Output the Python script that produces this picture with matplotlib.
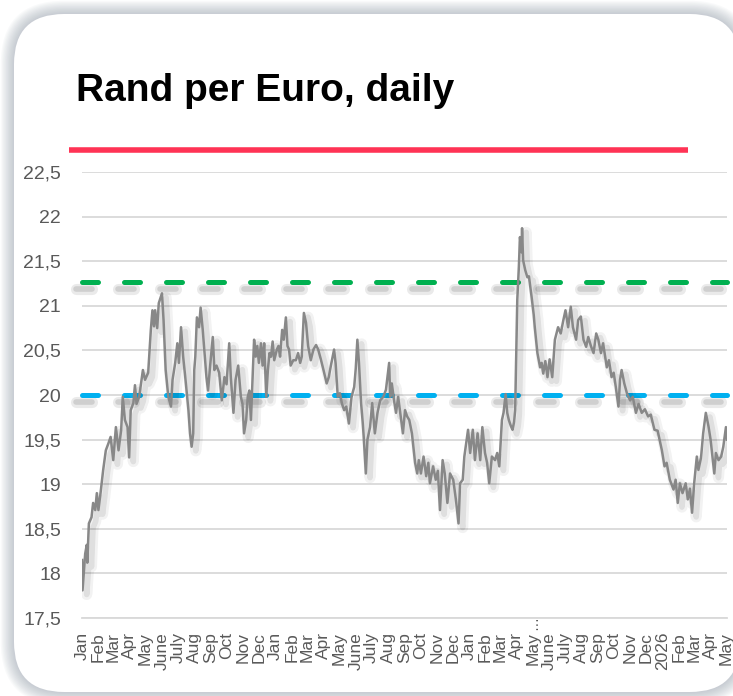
import matplotlib
matplotlib.use("Agg")
import matplotlib.pyplot as plt
import matplotlib.patheffects as pe
import matplotlib.ticker as mticker
from matplotlib.patches import FancyBboxPatch
from matplotlib.lines import Line2D
import pandas as pd

plt.rcParams['font.family'] = ['Liberation Sans', 'DejaVu Sans']

# ---------DATA---------
# days since 2023-01-01 and the rand per euro rate
day = [0, 1, 6, 9, 10, 13, 18, 21, 25, 28, 31, 35, 40, 45, 50, 54, 59, 64, 69, 74,
       77, 81, 86, 89, 92, 97, 100, 103, 108, 115, 119, 125, 130, 133, 136, 138, 142, 145, 151, 154,
       158, 163, 168, 171, 176, 180, 183, 187, 191, 195, 201, 204, 207, 210, 212, 214, 217, 221, 224, 228,
       232, 235, 238, 242, 247, 250, 254, 259, 264, 269, 273, 278, 281, 286, 290, 295, 300, 303, 306, 310,
       313, 316, 319, 322, 325, 328, 331, 334, 338, 341, 344, 348, 351, 354, 357, 360, 363, 368, 371, 374,
       378, 381, 385, 388, 391, 394, 399, 404, 408, 412, 415, 419, 423, 427, 432, 437, 442, 446, 451, 456,
       462, 466, 470, 476, 479, 483, 487, 491, 495, 499, 504, 509, 514, 517, 520, 523, 527, 530, 532, 536,
       539, 544, 548, 553, 558, 563, 569, 574, 580, 582, 585, 590, 593, 597, 601, 606, 610, 614, 618, 623,
       626, 629, 633, 636, 640, 645, 650, 654, 657, 663, 668, 672, 676, 681, 685, 690, 695, 701, 706, 711,
       714, 719, 722, 729, 733, 738, 742, 747, 752, 756, 761, 765, 769, 774, 780, 784, 788, 793, 796, 800,
       803, 806, 810, 813, 816, 818, 822, 825, 827, 830, 831, 833, 837, 841, 844, 849, 853, 855, 860, 865,
       868, 871, 875, 879, 883, 888, 893, 899, 904, 909, 913, 918, 923, 927, 933, 937, 942, 947, 952, 956,
       961, 966, 971, 975, 980, 984, 991, 995, 1000, 1004, 1008, 1013, 1016, 1019, 1024, 1029, 1035, 1040, 1046, 1051,
       1057, 1063, 1069, 1074, 1081, 1087, 1095, 1100, 1104, 1110, 1117, 1121, 1125, 1129, 1134, 1140, 1144, 1148, 1152, 1156,
       1161, 1164, 1169, 1173, 1178, 1183, 1187, 1194, 1197, 1202, 1207, 1211, 1216, 1218]
rate = [18.15, 17.81, 18.22, 18.32, 18.12, 18.56, 18.63, 18.79, 18.71, 18.90, 18.71, 18.90, 19.16, 19.38, 19.46, 19.53, 19.27, 19.64, 19.38, 19.61,
        19.98, 19.72, 19.64, 19.30, 19.83, 19.91, 20.11, 19.90, 19.98, 20.28, 20.17, 20.25, 20.73, 20.95, 20.77, 20.95, 20.75, 21.03, 21.14, 20.84,
        20.28, 19.98, 19.87, 20.17, 20.36, 20.58, 20.36, 20.76, 20.43, 20.20, 19.83, 19.57, 19.42, 19.57, 20.28, 20.43, 20.87, 20.76, 20.98, 20.73,
        20.43, 20.20, 20.05, 20.33, 20.65, 20.28, 20.33, 20.25, 19.94, 20.20, 20.12, 20.58, 20.20, 19.80, 20.17, 20.33, 19.98, 19.90, 19.57, 19.72,
        19.98, 20.05, 19.72, 20.17, 20.62, 20.43, 20.55, 20.36, 20.58, 20.33, 20.58, 19.98, 20.28, 20.47, 20.43, 20.60, 20.39, 20.51, 20.55, 20.43,
        20.73, 20.62, 20.87, 20.55, 20.51, 20.33, 20.39, 20.39, 20.47, 20.36, 20.43, 20.92, 20.81, 20.55, 20.39, 20.51, 20.56, 20.51, 20.40, 20.28,
        20.13, 20.20, 20.33, 20.51, 20.35, 19.98, 20.02, 19.90, 19.83, 19.87, 19.68, 19.98, 20.09, 20.30, 20.62, 20.36, 19.91, 19.70, 19.53, 19.12,
        19.50, 19.64, 19.91, 19.57, 19.80, 19.94, 19.98, 20.06, 20.36, 19.98, 20.13, 19.91, 19.80, 19.98, 19.80, 19.57, 19.83, 19.76, 19.72, 19.57,
        19.40, 19.24, 19.12, 19.27, 19.12, 19.31, 19.09, 19.24, 19.01, 19.20, 19.05, 19.15, 18.71, 19.27, 19.12, 18.79, 19.12, 19.05, 18.83, 18.56,
        19.01, 19.05, 19.31, 19.61, 19.35, 19.61, 19.27, 19.57, 19.27, 19.64, 19.35, 19.24, 19.01, 19.31, 19.27, 19.35, 19.20, 19.72, 19.80, 20.01,
        19.80, 19.72, 19.65, 19.61, 19.70, 19.83, 21.07, 21.44, 21.77, 21.60, 21.87, 21.51, 21.40, 21.32, 21.33, 21.10, 20.90, 20.76, 20.47, 20.31,
        20.36, 20.24, 20.38, 20.20, 20.40, 20.20, 20.62, 20.76, 20.69, 20.84, 20.95, 20.76, 20.99, 20.76, 20.62, 20.84, 20.88, 20.62, 20.54, 20.65,
        20.55, 20.47, 20.69, 20.62, 20.47, 20.58, 20.31, 20.39, 20.20, 20.25, 20.09, 19.87, 20.17, 20.28, 20.13, 20.02, 19.94, 19.98, 19.80, 19.90,
        19.80, 19.84, 19.76, 19.78, 19.61, 19.60, 19.38, 19.20, 19.24, 19.05, 18.94, 19.05, 18.79, 19.01, 18.90, 19.01, 18.83, 18.95, 18.68, 19.01,
        19.31, 19.16, 19.30, 19.57, 19.80, 19.65, 19.50, 19.12, 19.35, 19.27, 19.31, 19.42, 19.64, 19.50]

month_labels = ['Jan', 'Feb', 'Mar', 'Apr', 'May', 'June', 'July', 'Aug', 'Sep', 'Oct', 'Nov', 'Dec',
                'Jan', 'Feb', 'Mar', 'Apr', 'May', 'June', 'July', 'Aug', 'Sep', 'Oct', 'Nov', 'Dec',
                'Jan', 'Feb', 'Mar', 'Apr', 'May', 'June', 'July', 'Aug', 'Sep', 'Oct', 'Nov', 'Dec',
                '2026', 'Feb', 'Mar', 'Apr', 'May']
y_ticks = [17.5, 18, 18.5, 19, 19.5, 20, 20.5, 21, 21.5, 22, 22.5]
green_level = 21.27
blue_level = 20.0

start = pd.Timestamp("2023-01-01")
dates = start + pd.to_timedelta(day, unit="D")
month_ticks = pd.date_range("2023-01-01", "2026-05-01", freq="MS")

# ---------FIGURE / CARD---------
fig = plt.figure(figsize=(7.33, 6.96), dpi=100)
fig.patch.set_facecolor("white")

# soft shadow round the card
for k in range(12):
    grow = 0.012 * k
    fig.patches.append(FancyBboxPatch((0.14 - grow, 0.04 - grow), 7.26 + 2 * grow, 6.78 + 2 * grow,
                                      boxstyle="round,pad=0,rounding_size=%f" % (0.5 + grow),
                                      transform=fig.dpi_scale_trans, facecolor="#7d8a99",
                                      edgecolor="none", alpha=0.045, zorder=-5))
fig.patches.append(FancyBboxPatch((0.14, 0.04), 7.26, 6.78,
                                  boxstyle="round,pad=0,rounding_size=0.5",
                                  transform=fig.dpi_scale_trans, facecolor="white",
                                  edgecolor="none", zorder=-4))

fig.text(76 / 733, 1 - 101 / 696, "Rand per Euro, daily", fontsize=28, fontweight="bold",
         color="black", va="baseline", ha="left")
fig.add_artist(Line2D([69 / 733, 688 / 733], [1 - 150 / 696, 1 - 150 / 696],
                      transform=fig.transFigure, color="#FF3355", lw=4, solid_capstyle="butt"))

# ---------PLOT---------
ax = fig.add_axes([82 / 733, 1 - 618 / 696, 645 / 733, 446 / 696])
ax.patch.set_alpha(0)

dash_shadow = [pe.SimpleLineShadow(offset=(-4, -5), shadow_color="#555555", alpha=0.12, linewidth=8),
               pe.SimpleLineShadow(offset=(-4, -5), shadow_color="#555555", alpha=0.18, linewidth=4),
               pe.Normal()]
ax.axhline(green_level, color="#00B050", lw=3.6, linestyle=(0, (3.2, 5.2)),
           dash_capstyle="round", clip_on=False, zorder=2, path_effects=dash_shadow)
ax.axhline(blue_level, color="#00B0F0", lw=3.6, linestyle=(0, (3.2, 5.2)),
           dash_capstyle="round", clip_on=False, zorder=2, path_effects=dash_shadow)

ax.plot(dates, rate, color="#888888", lw=1.8, zorder=3,
        path_effects=[pe.SimpleLineShadow(offset=(3, -3), shadow_color="black", alpha=0.05, linewidth=8),
                      pe.SimpleLineShadow(offset=(3, -3), shadow_color="black", alpha=0.08, linewidth=4),
                      pe.Normal()])

ax.set_xlim(dates[0], dates[-1])
ax.set_ylim(17.5, 22.5)
ax.set_yticks(y_ticks)
ax.yaxis.set_major_formatter(mticker.FuncFormatter(lambda v, p: ("%g" % v).replace(".", ",")))
ax.set_xticks(month_ticks)
ax.set_xticklabels(month_labels, rotation=90, va="top", ha="center")

ax.grid(axis="y", color="#d9d9d9", lw=1.3, zorder=0)
for s in ["top", "left", "right"]:
    ax.spines[s].set_visible(False)
ax.spines["bottom"].set_color("#d9d9d9")
ax.spines["bottom"].set_linewidth(1.3)
ax.tick_params(axis="both", length=0, colors="#595959")
ax.tick_params(axis="y", pad=15, labelsize=14)
ax.tick_params(axis="x", pad=10, labelsize=12.5)

# truncated label marker above the May 2025 tick
ax.annotate("…", xy=(pd.Timestamp("2025-05-01"), 0), xycoords=("data", "axes fraction"),
            xytext=(0, 1), textcoords="offset points", rotation=90, ha="center", va="top",
            fontsize=10, color="#595959")

fig.savefig("out.png", dpi=100)
